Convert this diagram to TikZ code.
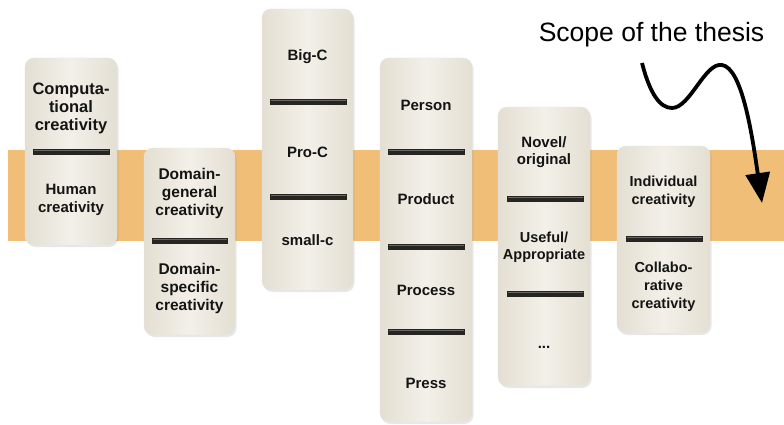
\documentclass[tikz,border=0pt]{standalone}
\usepackage{fontspec}
\setmainfont{Liberation Sans}
\usetikzlibrary{arrows.meta,shadows}
\definecolor{band}{RGB}{240,190,118}
\definecolor{tileA}{RGB}{228,223,210}
\definecolor{tileB}{RGB}{243,240,233}
\definecolor{barc}{RGB}{38,37,34}
\tikzset{
  tile/.style={rounded corners=9pt, draw=black!10, line width=0.4pt,
    left color=tileA, right color=tileA, middle color=tileB,
    drop shadow={opacity=0.18, shadow xshift=1.5pt, shadow yshift=-2pt},
    inner sep=0pt},
  bar/.style={draw=barc, line width=6pt},
  bartop/.style={draw=black!60, line width=0.8pt},
  lbl/.style={font=\bfseries\fontsize{15}{17.5}\selectfont, align=center, text=black!92},
}
\begin{document}
\begin{tikzpicture}[x=1pt,y=1pt]
\useasboundingbox (0,0) rectangle (784,424);
\fill[white] (0,0) rectangle (784,424);
% band
\fill[band] (8,183) rectangle (784,274);
% dominoes
\node[tile, minimum width=92pt, minimum height=187pt] (d1) at (71,272.5) {};
\node[tile, minimum width=91pt, minimum height=187pt] (d2) at (189.5,182.5) {};
\node[tile, minimum width=91pt, minimum height=281pt] (d3) at (307.5,274.5) {};
\node[tile, minimum width=92pt, minimum height=364pt] (d4) at (426,184) {};
\node[tile, minimum width=92pt, minimum height=279pt] (d5) at (544,177.5) {};
\node[tile, minimum width=93pt, minimum height=187pt] (d6) at (663.5,184.5) {};
% bars
\foreach \xa/\xb/\yy in {33/110/272, 152/228/183, 270/347/322, 270/347/227,
  388/465/272, 388/465/177, 388/465/92, 507/584/225, 507/584/130, 626/703/185}{
  \draw[bar] (\xa,\yy) -- (\xb,\yy);
  \draw[bartop] ([xshift=1pt,yshift=1.8pt]\xa,\yy) -- ([xshift=-1pt,yshift=1.8pt]\xb,\yy);
}
% labels
\node[lbl, font=\bfseries\fontsize{16.5}{18}\selectfont] (t11) at (71,316) {Computa-\\tional\\creativity};
\node[lbl] (t12) at (71,224) {Human\\creativity};
\node[lbl, font=\bfseries\fontsize{15.5}{18}\selectfont] (t21) at (189.5,231) {Domain-\\general\\creativity};
\node[lbl, font=\bfseries\fontsize{15.5}{18}\selectfont] (t22) at (189.5,136) {Domain-\\specific\\creativity};
\node[lbl] (t31) at (307.5,367) {Big-C};
\node[lbl] (t32) at (307.5,272) {Pro-C};
\node[lbl] (t33) at (307.5,184) {small-c};
\node[lbl] (t41) at (426,319) {Person};
\node[lbl] (t42) at (426,225) {Product};
\node[lbl] (t43) at (426,134) {Process};
\node[lbl] (t44) at (426,41) {Press};
\node[lbl] (t51) at (544,272) {Novel/\\original};
\node[lbl, font=\bfseries\fontsize{14.5}{17}\selectfont] (t52) at (544,177) {Useful/\\Appropriate};
\node[lbl] (t53) at (544,77) {...};
\node[lbl, font=\bfseries\fontsize{14.5}{17.5}\selectfont] (t61) at (663.5,232) {Individual\\creativity};
\node[lbl, font=\bfseries\fontsize{14.5}{18}\selectfont] (t62) at (663.5,137) {Collabo-\\rative\\creativity};
% title and arrow
\node[font=\fontsize{26.5}{30}\selectfont, inner sep=0pt] (title) at (651.5,389) {Scope of the thesis};
\coordinate (as) at (642,361);
\coordinate (ae) at (762,221);
\draw[line width=3.8pt, -{Triangle[length=30pt,width=24pt]}]
  (as) .. controls (650,330) and (660,316) .. (672,316)
  .. controls (690,316) and (705,362) .. (722,359)
  .. controls (742,356) and (752,290) .. (ae);
\end{tikzpicture}
\end{document}
